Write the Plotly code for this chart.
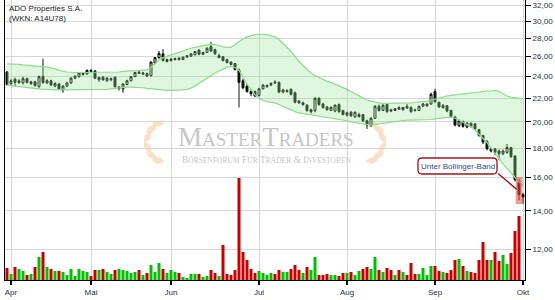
import math
import plotly.graph_objects as go

# ---------------- data ----------------
open_ = [24.45, 23.35, 23.75, 23.45, 23.4, 23.8, 23.35, 23.5, 23.05, 24.0,
         23.4, 23.6, 23.1, 23.3, 22.75, 23.1, 23.4, 23.85, 24.0, 24.2,
         24.25, 24.6, 24.55, 23.7, 23.95, 23.6, 23.7, 23.95, 22.9, 22.85,
         23.25, 23.6, 24.0, 24.45, 24.25, 24.3, 24.1, 25.35, 25.9, 26.3,
         25.5, 25.6, 25.7, 25.85, 25.7, 25.95, 26.05, 26.2, 26.7, 26.25,
         26.45, 27.1, 26.75, 25.9, 26.0, 25.7, 25.45, 25.3, 24.65, 23.6,
         23.1, 22.6, 22.6, 22.25, 22.85, 23.05, 23.2, 23.5, 23.45, 22.55,
         22.6, 22.8, 22.5, 21.75, 21.45, 21.4, 20.85, 20.95, 22.0, 21.5,
         21.25, 20.95, 20.9, 21.45, 20.95, 20.55, 20.8, 20.4, 20.45, 20.6,
         20.1, 19.75, 20.3, 21.3, 20.95, 21.45, 21.0, 20.95, 21.2, 21.0,
         21.3, 21.2, 21.0, 20.95, 21.3, 21.35, 21.5, 22.6, 21.65, 21.2,
         21.35, 20.95, 20.4, 19.7, 20.05, 19.6, 19.9, 19.85, 19.4, 18.95,
         18.5, 17.8, 17.95, 17.8, 17.6, 17.7, 18.05, 17.45, 15.7, 14.95]
high_ = [24.55, 23.75, 23.9, 23.75, 24.0, 23.9, 23.6, 23.6, 24.1, 25.8,
         23.75, 23.7, 23.45, 23.4, 23.2, 23.5, 23.95, 24.1, 24.45, 24.4,
         24.7, 24.75, 24.65, 24.0, 24.05, 23.95, 23.9, 24.0, 23.1, 23.35,
         23.7, 24.05, 24.45, 24.6, 24.45, 24.4, 25.5, 25.95, 26.6, 26.8,
         25.8, 25.85, 25.9, 25.95, 26.0, 26.15, 26.35, 26.6, 26.8, 26.5,
         27.0, 27.6, 26.85, 26.3, 26.05, 25.8, 25.5, 25.35, 24.8, 23.8,
         23.3, 22.8, 22.7, 22.95, 23.3, 23.25, 23.45, 23.65, 23.55, 22.85,
         22.8, 22.9, 22.6, 21.85, 21.7, 21.5, 21.1, 22.1, 22.1, 21.6,
         21.3, 21.3, 21.45, 21.55, 21.0, 20.85, 20.9, 20.85, 20.75, 20.65,
         20.2, 20.4, 21.4, 21.45, 21.45, 21.55, 21.1, 21.15, 21.3, 21.25,
         21.5, 21.3, 21.1, 21.35, 21.6, 21.55, 22.5, 22.85, 21.7, 21.45,
         21.4, 21.0, 20.5, 20.2, 20.1, 20.0, 19.95, 19.9, 19.45, 19.0,
         18.6, 18.05, 18.0, 17.9, 17.9, 18.3, 18.1, 17.5, 15.9, 15.05]
low_ = [23.15, 23.2, 23.05, 23.3, 23.25, 23.35, 23.2, 23.05, 22.95, 23.3,
        23.3, 23.1, 23.0, 22.75, 22.5, 23.0, 23.3, 23.75, 23.9, 24.1,
        24.2, 24.4, 23.75, 23.5, 23.6, 23.5, 23.55, 22.95, 22.7, 22.5,
        23.2, 23.55, 23.95, 24.25, 24.15, 23.95, 24.0, 25.3, 25.8, 25.5,
        25.4, 25.5, 25.6, 25.6, 25.65, 25.9, 26.0, 26.15, 26.15, 26.2,
        26.4, 26.5, 26.2, 25.85, 25.5, 25.3, 25.1, 24.6, 21.2, 22.8,
        22.5, 22.2, 22.1, 22.15, 22.8, 22.95, 23.1, 23.3, 22.45, 22.45,
        22.5, 22.25, 21.55, 21.5, 21.35, 20.85, 20.7, 20.8, 21.35, 21.1,
        20.95, 20.9, 20.8, 20.75, 20.55, 20.45, 20.4, 20.35, 20.35, 20.0,
        19.45, 19.6, 20.25, 20.85, 20.9, 20.75, 20.8, 20.9, 21.0, 20.95,
        21.1, 20.75, 20.85, 20.9, 21.25, 21.25, 21.45, 21.6, 21.15, 21.1,
        20.8, 20.35, 19.65, 19.6, 19.55, 19.5, 19.55, 19.35, 18.85, 18.3,
        17.85, 17.7, 17.5, 17.15, 17.5, 17.6, 17.3, 15.75, 14.6, 14.4]
close_ = [23.25, 23.6, 23.45, 23.6, 23.8, 23.45, 23.5, 23.15, 24.0, 23.45,
          23.6, 23.2, 23.35, 22.85, 23.1, 23.4, 23.85, 24.05, 24.35, 24.3,
          24.6, 24.5, 23.85, 23.9, 23.7, 23.85, 23.8, 23.05, 23.0, 23.3,
          23.6, 24.0, 24.4, 24.3, 24.35, 24.05, 25.45, 25.9, 26.35, 25.6,
          25.7, 25.75, 25.8, 25.7, 25.95, 26.1, 26.3, 26.55, 26.25, 26.45,
          26.9, 26.6, 26.3, 26.1, 25.6, 25.4, 25.2, 24.7, 23.45, 22.95,
          22.6, 22.4, 22.2, 22.85, 23.2, 23.15, 23.35, 23.4, 22.55, 22.75,
          22.7, 22.35, 21.65, 21.6, 21.6, 20.95, 21.0, 22.0, 21.45, 21.2,
          21.0, 21.2, 21.4, 20.85, 20.6, 20.75, 20.5, 20.8, 20.6, 20.1,
          19.75, 20.3, 21.3, 20.95, 21.4, 20.85, 20.9, 21.1, 21.05, 21.2,
          21.15, 20.85, 20.95, 21.3, 21.5, 21.5, 22.35, 21.7, 21.25, 21.4,
          20.9, 20.45, 19.75, 20.1, 19.65, 19.9, 19.65, 19.45, 18.95, 18.45,
          17.95, 17.95, 17.7, 17.6, 17.8, 18.05, 17.4, 15.85, 14.95, 14.8]
volume = [120000, 60000, 130000, 110000, 90000, 50000, 60000, 130000, 230000, 280000,
          130000, 110000, 90000, 90000, 80000, 50000, 110000, 40000, 110000, 90000,
          80000, 40000, 100000, 100000, 110000, 80000, 60000, 100000, 110000, 100000,
          90000, 70000, 80000, 100000, 50000, 70000, 150000, 80000, 170000, 110000,
          70000, 100000, 80000, 70000, 30000, 20000, 60000, 60000, 60000, 30000,
          40000, 100000, 70000, 40000, 350000, 60000, 50000, 100000, 1020000, 280000,
          200000, 110000, 70000, 90000, 70000, 50000, 70000, 60000, 100000, 80000,
          80000, 110000, 150000, 100000, 70000, 130000, 100000, 230000, 50000, 50000,
          60000, 50000, 50000, 40000, 70000, 70000, 80000, 50000, 90000, 110000,
          130000, 110000, 230000, 100000, 80000, 120000, 100000, 50000, 100000, 80000,
          50000, 170000, 60000, 60000, 120000, 50000, 140000, 140000, 90000, 80000,
          70000, 100000, 200000, 210000, 140000, 90000, 80000, 70000, 200000, 380000,
          200000, 200000, 280000, 190000, 250000, 160000, 270000, 490000, 640000, None]
bb_upper = [25.25, 25.25, 25.2, 25.2, 25.15, 25.1, 25.05, 25.0, 25.0, 25.0,
            24.95, 24.85, 24.75, 24.6, 24.5, 24.45, 24.4, 24.4, 24.4, 24.4,
            24.4, 24.4, 24.4, 24.4, 24.4, 24.45, 24.45, 24.45, 24.45, 24.5,
            24.55, 24.55, 24.55, 24.6, 24.6, 24.65, 24.9, 25.3, 25.65, 25.9,
            26.05, 26.2, 26.35, 26.5, 26.65, 26.8, 26.9, 27.0, 27.1, 27.2,
            27.3, 27.35, 27.3, 27.15, 27.05, 27.0, 27.0, 27.3, 27.65, 27.95,
            28.15, 28.3, 28.4, 28.45, 28.45, 28.4, 28.3, 28.15, 27.85, 27.45,
            27.0, 26.55, 26.0, 25.5, 25.1, 24.7, 24.35, 24.1, 23.9, 23.7,
            23.55, 23.45, 23.3, 23.1, 22.95, 22.8, 22.6, 22.4, 22.2, 22.0,
            21.85, 21.75, 21.65, 21.6, 21.55, 21.55, 21.55, 21.55, 21.55, 21.6,
            21.6, 21.6, 21.65, 21.65, 21.7, 21.75, 21.85, 21.95, 22.05, 22.15,
            22.2, 22.25, 22.3, 22.35, 22.35, 22.4, 22.45, 22.5, 22.55, 22.6,
            22.65, 22.65, 22.7, 22.6, 22.4, 22.2, 22.1, 22.05, 22.0, 21.95]
bb_lower = [23.2, 23.15, 23.1, 23.05, 23.0, 23.0, 22.95, 22.9, 22.85, 22.8,
            22.8, 22.75, 22.75, 22.75, 22.75, 22.75, 22.75, 22.75, 22.75, 22.75,
            22.75, 22.75, 22.75, 22.75, 22.8, 22.8, 22.85, 22.9, 22.95, 23.0,
            23.0, 23.0, 23.0, 23.0, 22.95, 22.9, 22.85, 22.8, 22.75, 22.7,
            22.7, 22.7, 22.7, 22.7, 22.75, 22.8, 22.9, 23.1, 23.35, 23.6,
            23.85, 24.1, 24.35, 24.55, 24.75, 24.9, 25.0, 24.9, 24.6, 23.9,
            23.3, 22.8, 22.3, 22.0, 21.8, 21.7, 21.65, 21.6, 21.45, 21.3,
            21.1, 20.95, 20.85, 20.75, 20.7, 20.65, 20.6, 20.55, 20.5, 20.45,
            20.4, 20.35, 20.3, 20.25, 20.2, 20.1, 20.0, 19.95, 19.85, 19.8,
            19.75, 19.75, 19.8, 19.85, 19.9, 19.95, 20.0, 20.05, 20.1, 20.1,
            20.15, 20.15, 20.15, 20.2, 20.2, 20.2, 20.2, 20.25, 20.3, 20.35,
            20.4, 20.4, 20.3, 20.15, 20.0, 19.85, 19.65, 19.35, 19.05, 18.7,
            18.4, 18.0, 17.6, 17.2, 16.9, 16.6, 16.3, 16.0, 15.7, 15.45]
month_idx = [1, 21, 41, 63, 85, 107, 129]
month_names = ["Apr", "Mai", "Jun", "Jul", "Aug", "Sep", "Okt"]
price_ticks = [12, 14, 16, 18, 20, 22, 24, 26, 28, 30, 32]
price_tick_text = ["12,00", "14,00", "16,00", "18,00", "20,00", "22,00",
                   "24,00", "26,00", "28,00", "30,00", "32,00"]
highlight_idx = 128
title_lines = ["ADO Properties S.A.", "(WKN: A14U78)"]
signal_text = "Unter Bollinger-Band"

x = list(range(len(close_)))
vol_colors = ["#00c000" if c >= o else "#c80000" for o, c in zip(open_, close_)]

# plot-area geometry (pixels) used only for decorations
L_M, R_M, T_M, B_M, W, H = 5, 30, 0, 20, 555, 300
PW, PH = W - L_M - R_M, H - T_M - B_M


def pp(px, py):
    return ((px - L_M) / PW, 1 - (py - T_M) / PH)


def leaf_path(cx, cy, length, width, ang):
    ca, sa = math.cos(ang), math.sin(ang)
    bx, by = cx - length / 2 * ca, cy - length / 2 * sa
    tx, ty = cx + length / 2 * ca, cy + length / 2 * sa
    nx, ny = -sa, ca
    c1 = (cx + width * nx, cy + width * ny)
    c2 = (cx - width * nx, cy - width * ny)
    pts = [pp(bx, by), pp(*c1), pp(tx, ty), pp(*c2)]
    return "M{:.4f},{:.4f} Q{:.4f},{:.4f} {:.4f},{:.4f} Q{:.4f},{:.4f} {:.4f},{:.4f} Z".format(
        pts[0][0], pts[0][1], pts[1][0], pts[1][1], pts[2][0], pts[2][1],
        pts[3][0], pts[3][1], pts[0][0], pts[0][1])


fig = go.Figure()

# volume (secondary axis, bottom)
fig.add_trace(go.Bar(x=x, y=volume, marker=dict(color=vol_colors, line=dict(width=0)),
                     yaxis="y2", hoverinfo="skip"))

# Bollinger band
fig.add_trace(go.Scatter(x=x, y=bb_lower, mode="lines", line=dict(color="#8ddc8d", width=1.2),
                         hoverinfo="skip"))
fig.add_trace(go.Scatter(x=x, y=bb_upper, mode="lines", line=dict(color="#8ddc8d", width=1.2),
                         fill="tonexty", fillcolor="rgba(150,230,150,0.3)", hoverinfo="skip"))

# candles
fig.add_trace(go.Candlestick(
    x=x, open=open_, high=high_, low=low_, close=close_,
    increasing=dict(line=dict(color="#000000", width=1), fillcolor="#ffffff"),
    decreasing=dict(line=dict(color="#0a1a0a", width=1), fillcolor="#0a1a0a"),
    whiskerwidth=0, hoverinfo="skip"))

# highlight box around signal candle
hx0, hx1 = highlight_idx - 0.85, highlight_idx + 0.85
hy0, hy1 = low_[highlight_idx] * 0.985, high_[highlight_idx] * 1.008
fig.add_trace(go.Scatter(x=[hx0, hx1, hx1, hx0, hx0], y=[hy0, hy0, hy1, hy1, hy0],
                         mode="lines", fill="toself", line=dict(width=0, color="rgba(0,0,0,0)"),
                         fillcolor="rgba(238,70,70,0.55)", hoverinfo="skip"))

shapes = []
# laurel wreaths of the watermark
leaf_col = "rgba(246,204,158,0.6)"
for side in (-1, 1):
    cx = 168 if side == -1 else 362
    cy = 142
    R = 21
    for th in (118, 142, 166, 194, 218, 242):
        t = math.radians(th)
        if side == 1:
            t = math.pi - t
        lx = cx + R * math.cos(t)
        ly = cy + R * math.sin(t)
        up = math.sin(t) < 0
        if side == -1:
            d = (-math.sin(t), math.cos(t)) if up else (math.sin(t), -math.cos(t))
        else:
            d = (math.sin(t), -math.cos(t)) if up else (-math.sin(t), math.cos(t))
        ang = math.atan2(d[1], d[0]) + (0.35 if up else -0.35) * (-side)
        shapes.append(dict(type="path", xref="paper", yref="paper", layer="below",
                           path=leaf_path(lx, ly, 13, 6.0, ang),
                           fillcolor=leaf_col, line=dict(width=0)))

# rounded label box
bx0, by0, bx1, by1, rr = 418, 158, 497, 174, 4
p = [pp(bx0 + rr, by0), pp(bx1 - rr, by0), pp(bx1, by0), pp(bx1, by0 + rr),
     pp(bx1, by1 - rr), pp(bx1, by1), pp(bx1 - rr, by1), pp(bx0 + rr, by1),
     pp(bx0, by1), pp(bx0, by1 - rr), pp(bx0, by0 + rr), pp(bx0, by0)]
path = ("M{0[0]:.4f},{0[1]:.4f} L{1[0]:.4f},{1[1]:.4f} Q{2[0]:.4f},{2[1]:.4f} {3[0]:.4f},{3[1]:.4f} "
        "L{4[0]:.4f},{4[1]:.4f} Q{5[0]:.4f},{5[1]:.4f} {6[0]:.4f},{6[1]:.4f} L{7[0]:.4f},{7[1]:.4f} "
        "Q{8[0]:.4f},{8[1]:.4f} {9[0]:.4f},{9[1]:.4f} L{10[0]:.4f},{10[1]:.4f} "
        "Q{11[0]:.4f},{11[1]:.4f} {0[0]:.4f},{0[1]:.4f} Z").format(*p)
shapes.append(dict(type="path", xref="paper", yref="paper", layer="above", path=path,
                   fillcolor="white", line=dict(color="#a51414", width=1.3)))

annotations = []
# watermark
big, small = 27, 19
wm = ("M<span style='font-size:{s}px'>ASTER</span>T<span style='font-size:{s}px'>RADERS</span>"
      .format(s=small))
wx, wy = pp(266, 137)
annotations.append(dict(xref="paper", yref="paper", x=wx, y=wy, text=wm, showarrow=False,
                        font=dict(family="Liberation Serif", size=big, color="#c6c6c6"),
                        xanchor="center", yanchor="middle"))
sub = ("B<span style='font-size:7.5px'>ÖRSENFORUM</span> F<span style='font-size:7.5px'>ÜR</span> "
       "T<span style='font-size:7.5px'>RADER</span> &amp; I<span style='font-size:7.5px'>NVESTOREN</span>")
sx, sy = pp(266, 160)
annotations.append(dict(xref="paper", yref="paper", x=sx, y=sy, text=sub, showarrow=False,
                        font=dict(family="Liberation Serif", size=9.5, color="#c6c6c6"),
                        xanchor="center", yanchor="middle"))
# title
tx, ty = pp(7, 2)
annotations.append(dict(xref="paper", yref="paper", x=tx, y=ty, text="<br>".join(title_lines),
                        showarrow=False, align="left", xanchor="left", yanchor="top",
                        font=dict(family="Liberation Sans", size=8, color="#1a1a1a")))
# signal label
lx, ly = pp((bx0 + bx1) / 2, (by0 + by1) / 2)
annotations.append(dict(xref="paper", yref="paper", x=lx, y=ly, text=signal_text,
                        showarrow=False, xanchor="center", yanchor="middle",
                        font=dict(family="Liberation Sans", size=8, color="#2a4a9c")))
# connector from label to signal candle
annotations.append(dict(xref="x", yref="y", x=highlight_idx - 0.6,
                        y=math.log10(high_[highlight_idx] * 0.96), text="",
                        showarrow=True, arrowhead=0, arrowwidth=1.5, arrowcolor="#a51414",
                        ax=-20, ay=-17, standoff=0))

tickfont = dict(family="Liberation Sans", size=8, color="#1c2d52")
fig.update_layout(
    width=W, height=H,
    margin=dict(l=L_M, r=R_M, t=T_M, b=B_M, autoexpand=False),
    paper_bgcolor="white", plot_bgcolor="white", showlegend=False,
    bargap=0.25,
    xaxis=dict(range=[-0.5, 129.5], tickmode="array", tickvals=month_idx, ticktext=month_names,
               showgrid=True, gridcolor="#d6d6d6", gridwidth=1, showline=True, linecolor="black",
               linewidth=1, ticks="outside", ticklen=4, tickwidth=1.5, tickcolor="black",
               tickfont=tickfont, rangeslider=dict(visible=False), zeroline=False, fixedrange=True),
    yaxis=dict(type="log", range=[math.log10(10.6), math.log10(32.65)], side="right",
               tickmode="array", tickvals=price_ticks, ticktext=price_tick_text,
               showgrid=True, gridcolor="#d6d6d6", gridwidth=1, showline=True, linecolor="black",
               linewidth=1, ticks="outside", ticklen=5, tickcolor="black", tickfont=tickfont,
               zeroline=False, fixedrange=True),
    yaxis2=dict(overlaying="y", side="left", range=[0, 2800000], showgrid=False,
                showticklabels=False, showline=True, linecolor="black", linewidth=1.5,
                ticks="", zeroline=False, fixedrange=True),
    shapes=shapes, annotations=annotations,
)

fig.write_html("out.html", config={"displayModeBar": False, "staticPlot": True})
